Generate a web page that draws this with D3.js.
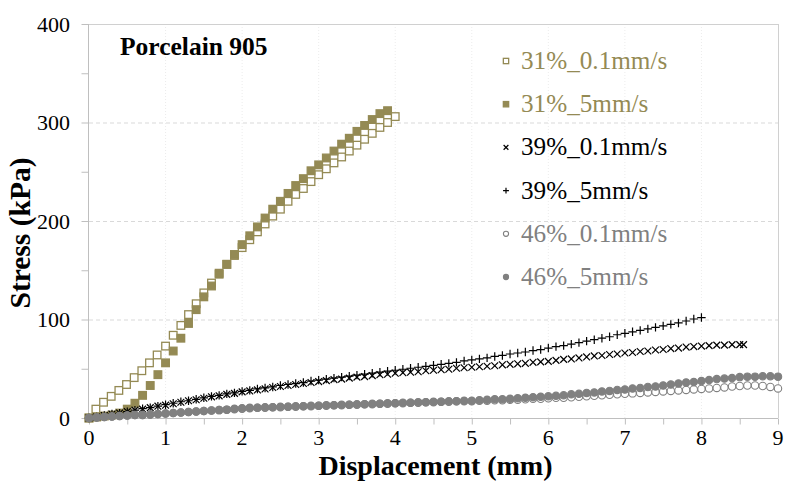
<!DOCTYPE html>
<html><head><meta charset="utf-8">
<script src="https://cdn.jsdelivr.net/npm/d3@7"></script>
<style>
html,body{margin:0;padding:0;background:#fff;}
svg{display:block;}
svg text{font-family:"Liberation Serif","DejaVu Serif",serif;}
</style></head>
<body>
<svg id="c" width="785" height="488"></svg>
<script>
// ---------- data (displacement mm, stress kPa) ----------
const seriesNames = ["31%_0.1mm/s","31%_5mm/s","39%_0.1mm/s","39%_5mm/s","46%_0.1mm/s","46%_5mm/s"];
const xTicks = [0,1,2,3,4,5,6,7,8,9];
const yTicks = [0,100,200,300,400];

const s31slow = [[0,0],[0.09,9],[0.19,16],[0.29,22],[0.39,28],[0.49,34],[0.59,41],[0.69,48],[0.79,56],[0.89,64],[1.0,73],[1.1,84],[1.2,94],[1.3,105],[1.4,116],[1.5,127],[1.6,137],[1.7,147],[1.8,156],[1.9,165],[2.0,173],[2.1,181],[2.2,189],[2.3,197],[2.4,205],[2.5,212],[2.6,220],[2.7,227],[2.8,233],[2.9,240],[3.0,247],[3.1,253],[3.2,259],[3.3,265],[3.4,271],[3.5,277],[3.6,283],[3.7,289],[3.8,295],[3.9,300],[4.0,306]];

const s31fast = [[0,0],[0.1,1],[0.2,2],[0.3,3],[0.4,5],[0.5,9],[0.6,15],[0.7,23],[0.8,33],[0.9,44],[1.0,56],[1.1,68],[1.2,81],[1.3,96],[1.4,110],[1.5,123],[1.6,134],[1.7,146],[1.8,156],[1.9,166],[2.0,176],[2.1,185],[2.2,194],[2.3,203],[2.4,212],[2.5,220],[2.6,228],[2.7,236],[2.8,243],[2.9,251],[3.0,257],[3.1,264],[3.2,271],[3.3,278],[3.4,284],[3.5,291],[3.6,297],[3.7,303],[3.8,309],[3.9,312]];

const s39slow = [[0,0],[0.1,1],[0.2,2.5],[0.3,4],[0.4,5],[0.5,6.5],[0.6,8],[0.7,9],[0.8,10.5],[0.9,12],[1.0,13],[1.1,14.5],[1.2,16],[1.3,17.5],[1.4,18.5],[1.5,20],[1.6,21.5],[1.7,22.5],[1.8,24],[1.9,25],[2.0,26.5],[2.1,27.5],[2.2,28.5],[2.3,29.5],[2.4,31],[2.5,32],[2.6,33],[2.7,34],[2.8,35],[2.9,36],[3.0,37],[3.1,38],[3.2,39],[3.3,39.5],[3.4,40.5],[3.5,41.5],[3.6,42],[3.7,43],[3.8,44],[3.9,44.5],[4.0,45.5],[4.1,46],[4.2,46.5],[4.3,47],[4.4,48],[4.5,48.5],[4.6,49],[4.7,49.5],[4.8,50.5],[4.9,51],[5.0,51.5],[5.1,52],[5.2,52.5],[5.3,53],[5.4,54],[5.5,54.5],[5.6,55],[5.7,55.5],[5.8,56.5],[5.9,57],[6.0,57.5],[6.1,58.5],[6.2,59.5],[6.3,60],[6.4,61],[6.5,62],[6.6,63],[6.7,63.5],[6.8,64.5],[6.9,65],[7.0,66],[7.1,66.5],[7.2,67.5],[7.3,68],[7.4,69],[7.5,69.5],[7.6,70.5],[7.7,71],[7.8,72],[7.9,72.5],[8.0,73],[8.1,73.5],[8.2,74],[8.3,74],[8.4,74.5],[8.5,74.5],[8.55,74.5]];

const s39fast = [[0,0],[0.1,1],[0.2,2.5],[0.3,4],[0.4,5],[0.5,6.5],[0.6,8],[0.7,9.5],[0.8,10.5],[0.9,12],[1.0,13.5],[1.1,15],[1.2,16.5],[1.3,17.5],[1.4,19],[1.5,20.5],[1.6,22],[1.7,23],[1.8,24.5],[1.9,25.5],[2.0,27],[2.1,28],[2.2,29.5],[2.3,30.5],[2.4,31.5],[2.5,33],[2.6,34],[2.7,35],[2.8,36],[2.9,37.5],[3.0,38.5],[3.1,39.5],[3.2,40.5],[3.3,41.5],[3.4,42.5],[3.5,43.5],[3.6,44.5],[3.7,45.5],[3.8,46.5],[3.9,47.5],[4.0,48.5],[4.1,49.5],[4.2,50.5],[4.3,51.5],[4.4,52.5],[4.5,53.5],[4.6,54.5],[4.7,55.5],[4.8,56.5],[4.9,58],[5.0,59],[5.1,60],[5.2,61],[5.3,62.5],[5.4,63.5],[5.5,65],[5.6,66],[5.7,67],[5.8,68.5],[5.9,69.5],[6.0,71],[6.1,72.5],[6.2,73.5],[6.3,75],[6.4,76.5],[6.5,78],[6.6,79.5],[6.7,81],[6.8,82.5],[6.9,84.5],[7.0,86],[7.1,87.5],[7.2,89],[7.3,90.5],[7.4,92],[7.5,93.5],[7.6,95],[7.7,96.5],[7.8,98.5],[7.9,100.5],[8.0,102]];

const s46slow = [[0,0],[0.1,0.5],[0.2,1],[0.3,1.5],[0.4,2],[0.5,2.5],[0.6,3],[0.7,3],[0.8,3.5],[0.9,4],[1.0,4.5],[1.1,5],[1.2,5.5],[1.3,6],[1.4,6.5],[1.5,7],[1.6,7.5],[1.7,8],[1.8,8.5],[1.9,9],[2.0,9.5],[2.1,10],[2.2,10.5],[2.3,10.5],[2.4,11],[2.5,11],[2.6,11.5],[2.7,11.5],[2.8,12],[2.9,12],[3.0,12.5],[3.1,12.5],[3.2,13],[3.3,13],[3.4,13.5],[3.5,13.5],[3.6,14],[3.7,14],[3.8,14.5],[3.9,14.5],[4.0,15],[4.1,15],[4.2,15.5],[4.3,15.5],[4.4,16],[4.5,16],[4.6,16.5],[4.7,16.5],[4.8,17],[4.9,17],[5.0,17],[5.1,17.5],[5.2,17.5],[5.3,18],[5.4,18],[5.5,18.5],[5.6,18.5],[5.7,19],[5.8,19.5],[5.9,19.5],[6.0,20],[6.1,20.5],[6.2,20.5],[6.3,21],[6.4,21.5],[6.5,22],[6.6,22.5],[6.7,23],[6.8,23.5],[6.9,24],[7.0,24.5],[7.1,25],[7.2,25.5],[7.3,26],[7.4,26.5],[7.5,27],[7.6,27.5],[7.7,28],[7.8,28.5],[7.9,29],[8.0,29.5],[8.1,30],[8.2,30.5],[8.3,31],[8.4,32],[8.5,32.5],[8.6,33],[8.7,33],[8.8,32.5],[8.9,31.5],[9.0,30]];

const s46fast = [[0,0],[0.1,0.5],[0.2,1],[0.3,1.5],[0.4,2],[0.5,2.5],[0.6,3],[0.7,3],[0.8,3.5],[0.9,4],[1.0,4.5],[1.1,5],[1.2,5.5],[1.3,6],[1.4,6.5],[1.5,7],[1.6,7.5],[1.7,8],[1.8,8.5],[1.9,9.5],[2.0,10],[2.1,10.5],[2.2,10.5],[2.3,11],[2.4,11],[2.5,11.5],[2.6,11.5],[2.7,12],[2.8,12],[2.9,12.5],[3.0,12.5],[3.1,13],[3.2,13],[3.3,13.5],[3.4,13.5],[3.5,14],[3.6,14],[3.7,14.5],[3.8,14.5],[3.9,15],[4.0,15],[4.1,15.5],[4.2,15.5],[4.3,16],[4.4,16],[4.5,16.5],[4.6,16.5],[4.7,17],[4.8,17],[4.9,17.5],[5.0,17.5],[5.1,18],[5.2,18.5],[5.3,19],[5.4,19],[5.5,19.5],[5.6,20],[5.7,20.5],[5.8,21],[5.9,21.5],[6.0,22],[6.1,22.5],[6.2,23],[6.3,24],[6.4,24.5],[6.5,25.5],[6.6,26],[6.7,27],[6.8,27.5],[6.9,28.5],[7.0,29],[7.1,30],[7.2,30.5],[7.3,31.5],[7.4,32],[7.5,33],[7.6,34],[7.7,35],[7.8,36],[7.9,36.5],[8.0,37.5],[8.1,38.5],[8.2,39.5],[8.3,40],[8.4,40.5],[8.5,41.5],[8.6,42],[8.7,42],[8.8,42.5],[8.9,42.5],[9.0,42]];

// ---------- style ----------
const FONT = "Liberation Serif, DejaVu Serif, serif";
const OLIVE = "#948a54", GRAY = "#808080", BLACK = "#000";
const series = [
  {name: seriesNames[0], data: s31slow, shape: "square", fill: "#fff", stroke: OLIVE, text: OLIVE},
  {name: seriesNames[1], data: s31fast, shape: "square", fill: OLIVE, stroke: OLIVE, text: OLIVE},
  {name: seriesNames[2], data: s39slow, shape: "x", fill: "none", stroke: BLACK, text: BLACK},
  {name: seriesNames[3], data: s39fast, shape: "plus", fill: "none", stroke: BLACK, text: BLACK},
  {name: seriesNames[4], data: s46slow, shape: "circle", fill: "#fff", stroke: GRAY, text: GRAY},
  {name: seriesNames[5], data: s46fast, shape: "circle", fill: GRAY, stroke: GRAY, text: GRAY}
];

const svg = d3.select("#c");
const x = d3.scaleLinear().domain([0, 9]).range([89, 778]);
const y = d3.scaleLinear().domain([0, 400]).range([418, 24]);

// gridlines
const grid = svg.append("g");
grid.selectAll("line.v").data(xTicks.slice(1, -1)).join("line")
  .attr("x1", d => x(d)).attr("x2", d => x(d)).attr("y1", y(0)).attr("y2", y(400))
  .attr("stroke", "#ececec").attr("stroke-width", 1).attr("stroke-dasharray", "1,2");
grid.selectAll("line.h").data([100, 200, 300]).join("line")
  .attr("x1", x(0)).attr("x2", x(9)).attr("y1", d => y(d) + 0.5).attr("y2", d => y(d) + 0.5)
  .attr("stroke", "#d9d9d9").attr("stroke-width", 1).attr("stroke-dasharray", "4,3");
grid.append("line").attr("x1", x(0)).attr("x2", x(9)).attr("y1", y(400) + 0.5).attr("y2", y(400) + 0.5)
  .attr("stroke", "#d0d0d0");
grid.append("line").attr("x1", x(9) + 0.5).attr("x2", x(9) + 0.5).attr("y1", y(0)).attr("y2", y(400))
  .attr("stroke", "#d0d0d0");

// axes
const xAxis = d3.axisBottom(x).tickValues(d3.range(0, 9.01, 0.5)).tickSize(6).tickFormat(() => "");
const gx = svg.append("g").attr("transform", `translate(0,${y(0) + 0.5})`).call(xAxis);
gx.selectAll("path,line").attr("stroke", "#bfbfbf");
gx.select(".domain").attr("d", `M${x(0)},0H${x(9)}`);
svg.append("g").selectAll("text").data(xTicks).join("text")
  .attr("x", d => x(d)).attr("y", 445).attr("text-anchor", "middle").attr("font-family", FONT)
  .attr("font-size", 22).attr("fill", "#000").text(d => d);

const yAxis = d3.axisLeft(y).tickValues(d3.range(0, 401, 50)).tickSize(7).tickFormat(() => "");
const gy = svg.append("g").attr("transform", `translate(${x(0) - 0.5},0)`).call(yAxis);
gy.selectAll("path,line").attr("stroke", "#bfbfbf");
gy.select(".domain").attr("d", `M0,${y(0)}V${y(400)}`);
svg.append("g").selectAll("text").data(yTicks).join("text")
  .attr("x", 70).attr("y", d => y(d) + 7.5).attr("text-anchor", "end").attr("font-family", FONT)
  .attr("font-size", 22).attr("fill", "#000").text(d => d);

// axis titles
svg.append("text").attr("x", (x(0) + x(9)) / 2 + 2).attr("y", 475).attr("text-anchor", "middle")
  .attr("font-family", FONT).attr("font-size", 28).attr("font-weight", "bold").text("Displacement (mm)");
svg.append("text").attr("transform", `translate(30,233) rotate(-90)`)
  .attr("text-anchor", "middle").attr("font-family", FONT).attr("font-size", 29.5).attr("font-weight", "bold").text("Stress (kPa)");

// chart label
svg.append("text").attr("x", 120).attr("y", 55).attr("font-family", FONT).attr("font-size", 25.5)
  .attr("font-weight", "bold").text("Porcelain 905");

// markers
function markerPath(shape, r) {
  if (shape === "x") return `M${-r},${-r}L${r},${r}M${-r},${r}L${r},${-r}`;
  if (shape === "plus") return `M${-r},0H${r}M0,${-r}V${r}`;
  return null;
}
function drawMarker(g, s, px, py, k) {
  if (s.shape === "square") {
    const h = 3.8 * k;
    g.append("rect").attr("x", px - h).attr("y", py - h).attr("width", 2 * h).attr("height", 2 * h)
      .attr("fill", s.fill).attr("stroke", s.stroke).attr("stroke-width", 1.3);
  } else if (s.shape === "circle") {
    g.append("circle").attr("cx", px).attr("cy", py).attr("r", 3.7 * k)
      .attr("fill", s.fill).attr("stroke", s.stroke).attr("stroke-width", 1.1);
  } else {
    g.append("path").attr("transform", `translate(${px},${py})`)
      .attr("d", markerPath(s.shape, (s.shape === "x" ? 3.4 : 4.2) * k))
      .attr("fill", "none").attr("stroke", s.stroke).attr("stroke-width", 1.2);
  }
}

const plot = svg.append("g");
series.forEach(s => {
  const g = plot.append("g");
  s.data.forEach(d => drawMarker(g, s, x(d[0]), y(d[1]), 1));
});

// legend
const leg = svg.append("g");
series.forEach((s, i) => {
  const cy = 61 + i * 43.2;
  drawMarker(leg, s, 506, cy, 0.7);
  leg.append("text").attr("x", 521).attr("y", cy + 8).attr("font-family", FONT).attr("font-size", 25.2)
    .attr("fill", s.text).text(s.name);
});
</script>
</body></html>
